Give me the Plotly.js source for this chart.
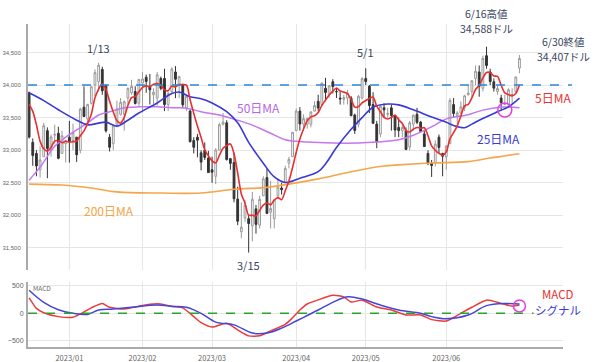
<!DOCTYPE html>
<html><head><meta charset="utf-8">
<script src="https://cdn.plot.ly/plotly-3.0.1.min.js"></script>
<style>html,body{margin:0;padding:0;background:#fff}#chart{width:600px;height:362px}</style>
</head><body><div id="chart"></div>
<script>
// ---- trading days (category axis) ----
const dates = [
'2022-12-15','2022-12-16','2022-12-19','2022-12-20','2022-12-21','2022-12-22','2022-12-23','2022-12-27','2022-12-28','2022-12-29','2022-12-30',
'2023-01-03','2023-01-04','2023-01-05','2023-01-06','2023-01-09','2023-01-10','2023-01-11','2023-01-12','2023-01-13','2023-01-17','2023-01-18','2023-01-19','2023-01-20','2023-01-23','2023-01-24','2023-01-25','2023-01-26','2023-01-27','2023-01-30','2023-01-31',
'2023-02-01','2023-02-02','2023-02-03','2023-02-06','2023-02-07','2023-02-08','2023-02-09','2023-02-10','2023-02-13','2023-02-14','2023-02-15','2023-02-16','2023-02-17','2023-02-21','2023-02-22','2023-02-23','2023-02-24','2023-02-27','2023-02-28',
'2023-03-01','2023-03-02','2023-03-03','2023-03-06','2023-03-07','2023-03-08','2023-03-09','2023-03-10','2023-03-13','2023-03-14','2023-03-15','2023-03-16','2023-03-17','2023-03-20','2023-03-21','2023-03-22','2023-03-23','2023-03-24','2023-03-27','2023-03-28','2023-03-29','2023-03-30','2023-03-31',
'2023-04-03','2023-04-04','2023-04-05','2023-04-06','2023-04-10','2023-04-11','2023-04-12','2023-04-13','2023-04-14','2023-04-17','2023-04-18','2023-04-19','2023-04-20','2023-04-21','2023-04-24','2023-04-25','2023-04-26','2023-04-27','2023-04-28',
'2023-05-01','2023-05-02','2023-05-03','2023-05-04','2023-05-05','2023-05-08','2023-05-09','2023-05-10','2023-05-11','2023-05-12','2023-05-15','2023-05-16','2023-05-17','2023-05-18','2023-05-19','2023-05-22','2023-05-23','2023-05-24','2023-05-25','2023-05-26','2023-05-30','2023-05-31',
'2023-06-01','2023-06-02','2023-06-05','2023-06-06','2023-06-07','2023-06-08','2023-06-09','2023-06-12','2023-06-13','2023-06-14','2023-06-15','2023-06-16','2023-06-20','2023-06-21','2023-06-22','2023-06-23','2023-06-26','2023-06-27','2023-06-28','2023-06-29','2023-06-30'];

const openP = [
33880,33120,32950,32700,32900,33300,33000,33230,33260,32950,33100,
33200,33150,33200,33000,33660,33480,33720,34000,34050,34240,33990,33200,33100,33400,33550,33550,33800,33880,33900,33720,
34030,34120,33980,33850,33800,34100,34100,33700,33900,34200,34000,34000,33650,33600,33150,33200,32960,33000,32880,
32700,32600,33000,33400,33420,32870,32810,32250,31750,31960,31950,31840,32100,31850,32300,32580,32050,31950,32300,32420,32500,32800,32900,
33300,33600,33400,33400,33400,33600,33750,33700,33950,33850,34050,33900,33800,33780,33800,33800,33540,33400,33800,
34100,33980,33700,33400,33250,33650,33550,33650,33530,33350,33300,33300,33050,33400,33550,33430,33250,32950,32800,32800,33200,32950,
32900,33100,33700,33530,33570,33650,33850,33900,34100,34200,33950,34450,34200,34050,33900,33800,33700,33700,33850,33900,34260];
const highP = [
33900,33180,33000,33060,33420,33350,33240,33390,33360,33300,33160,
33450,33410,33200,33650,33980,33710,33980,34240,34342,34280,34010,33250,33380,33760,33800,33760,33960,34080,33980,34090,
34200,34160,34170,33950,34200,34130,34250,33900,34270,34290,34140,34020,33850,33620,33200,33250,33000,33120,32990,
32900,33030,33420,33570,33460,32880,32960,32440,32200,32240,32020,32360,32160,32300,32600,32720,32530,32240,32560,32500,32760,32900,33280,
33640,33660,33550,33500,33600,33750,33850,34040,34110,34000,34090,33950,33900,33850,33930,33830,33560,33850,34120,
34257,34000,33890,33450,33700,33720,33650,33700,33540,33500,33400,33350,33450,33550,33650,33450,33300,33000,32850,33150,33240,32960,
33080,33800,33800,33600,33750,33850,33990,34070,34300,34300,34450,34588,34250,34100,34000,33850,33850,33950,33950,34130,34460];
const lowP = [
33180,32760,32600,32580,32900,32570,32900,33100,32860,32950,32810,
32810,33000,32820,32950,33510,33400,33700,33830,33900,33850,33270,32980,33000,33350,33530,33300,33700,33850,33700,33680,
33580,33880,33700,33700,33680,33920,33600,33600,33880,33800,33800,33650,33600,33120,32950,32890,32690,32850,32650,
32500,32480,33000,33380,32840,32700,32200,31850,31650,31900,31429,31600,31720,31800,32300,32020,31800,31800,32260,32320,32500,32720,32900,
33290,33300,33300,33330,33350,33590,33600,33680,33750,33800,33870,33800,33700,33700,33700,33520,33250,33350,33780,
34000,33570,33400,33030,33200,33500,33500,33300,33200,33200,33200,33000,33000,33300,33400,33280,33050,32770,32590,32750,32950,32600,
32700,33100,33500,33400,33550,33600,33840,33800,34000,33820,33900,34250,34000,33900,33850,33600,33700,33650,33700,33880,34180];
const closeP = [
33202,32920,32758,32850,33376,33027,33204,33242,32876,33221,33147,
33136,33270,32930,33631,33518,33704,33973,34190,34303,33911,33297,33045,33375,33630,33734,33744,33949,33978,33717,34086,
34093,34054,33926,33891,34157,33949,33700,33869,34246,34089,34128,33697,33827,33130,33045,33154,32817,32889,32657,
32662,33004,33391,33431,32856,32798,32255,31910,31819,32155,31875,32247,31862,32245,32561,32030,32105,32238,32432,32394,32718,32859,33274,
33601,33402,33483,33485,33587,33685,33647,34030,33886,33987,33977,33897,33787,33809,33875,33531,33302,33826,34098,
34052,33685,33414,33128,33674,33619,33562,33531,33310,33301,33349,33012,33421,33536,33427,33287,33056,32800,32765,33093,33043,32908,
33062,33763,33563,33573,33665,33834,33877,34066,34212,33979,34408,34299,34054,33952,33947,33727,33715,33927,33853,34122,34407];

// 5-day MA (daily)
const ma5 = [
33707,33595,33391,33139,33021,32986,33043,33140,33145,33114,33138,
33124,33130,33141,33223,33297,33411,33551,33803,33938,34016,33935,33749,33586,33452,33416,33506,33686,33807,33824,33895,
33965,33986,33975,34010,34024,33995,33925,33913,33984,33971,34006,34006,33997,33774,33565,33371,33195,33007,32912,
32836,32806,32921,33029,33069,33096,32946,32650,32328,32187,32003,32001,31992,32077,32158,32189,32161,32236,32273,32240,32377,32528,32735,
32969,33171,33324,33449,33512,33528,33577,33687,33767,33847,33905,33955,33907,33891,33869,33780,33661,33669,33726,
33762,33793,33815,33675,33591,33504,33479,33503,33539,33465,33411,33301,33279,33324,33349,33337,33345,33221,33067,33000,32951,32922,
32974,33174,33268,33374,33525,33680,33702,33803,33931,33994,34108,34193,34190,34138,34132,33996,33879,33854,33834,33869,34005];

// 25-day MA (read at sample days)
const ma25Dates = ['2022-12-15','2022-12-21','2022-12-28','2023-01-05','2023-01-10','2023-01-13','2023-01-18','2023-01-23','2023-01-26','2023-01-31','2023-02-07','2023-02-13','2023-02-15','2023-02-21','2023-02-24','2023-03-01','2023-03-07','2023-03-10','2023-03-15','2023-03-21','2023-03-24','2023-03-29','2023-04-04','2023-04-12','2023-04-14','2023-04-19','2023-04-25','2023-04-28','2023-05-03','2023-05-09','2023-05-12','2023-05-18','2023-05-25','2023-06-01','2023-06-05','2023-06-08','2023-06-12','2023-06-14','2023-06-22','2023-06-27','2023-06-29','2023-06-30'];
const ma25 = [33880,33760,33620,33460,33390,33415,33430,33370,33460,33570,33725,33870,33893,33820,33790,33725,33590,33420,33120,32800,32590,32505,32570,32670,32790,33040,33320,33500,33660,33708,33695,33620,33510,33430,33380,33345,33400,33460,33590,33665,33750,33800];

// 50-day MA
const ma50Dates = ['2022-12-15','2022-12-20','2022-12-27','2022-12-30','2023-01-10','2023-01-13','2023-01-19','2023-01-25','2023-01-31','2023-02-07','2023-02-13','2023-02-17','2023-02-24','2023-03-03','2023-03-10','2023-03-16','2023-03-23','2023-03-29','2023-04-06','2023-04-18','2023-04-27','2023-05-04','2023-05-12','2023-05-18','2023-05-25','2023-06-01','2023-06-09','2023-06-15','2023-06-23','2023-06-30'];
const ma50 = [32540,32740,33060,33200,33420,33540,33590,33650,33665,33665,33650,33645,33590,33540,33460,33385,33260,33160,33125,33110,33110,33125,33160,33230,33360,33480,33545,33615,33660,33650];

// 200-day MA
const ma200Dates = ['2022-12-15','2022-12-29','2023-01-11','2023-01-23','2023-02-08','2023-02-24','2023-03-09','2023-03-22','2023-03-30','2023-04-12','2023-04-25','2023-05-08','2023-05-12','2023-05-25','2023-06-09','2023-06-20','2023-06-30'];
const ma200 = [32480,32465,32420,32360,32343,32343,32400,32430,32480,32560,32670,32757,32775,32803,32825,32880,32945];

// MACD and signal
const macdDates = ['2022-12-15','2022-12-16','2022-12-19','2022-12-21','2022-12-28','2023-01-04','2023-01-06','2023-01-11','2023-01-17','2023-01-19','2023-01-25','2023-01-31','2023-02-03','2023-02-08','2023-02-13','2023-02-16','2023-02-22','2023-02-24','2023-03-01','2023-03-07','2023-03-10','2023-03-15','2023-03-20','2023-03-23','2023-03-29','2023-03-31','2023-04-04','2023-04-06','2023-04-12','2023-04-18','2023-04-21','2023-04-25','2023-04-28','2023-05-04','2023-05-10','2023-05-16','2023-05-22','2023-05-25','2023-06-01','2023-06-07','2023-06-12','2023-06-16','2023-06-23','2023-06-28','2023-06-30'];
const macd = [280,180,90,10,-60,-70,-10,100,180,110,80,130,165,170,125,100,-60,-170,-250,-180,-300,-410,-410,-320,-200,-80,60,170,245,330,300,205,240,115,60,-30,-30,-115,-140,0,110,240,180,130,150];
const sigDates = ['2022-12-15','2022-12-21','2022-12-28','2023-01-04','2023-01-10','2023-01-13','2023-01-20','2023-01-27','2023-02-07','2023-02-13','2023-02-17','2023-02-24','2023-03-02','2023-03-09','2023-03-16','2023-03-22','2023-03-28','2023-04-03','2023-04-06','2023-04-12','2023-04-18','2023-04-24','2023-04-28','2023-05-05','2023-05-12','2023-05-22','2023-05-25','2023-06-01','2023-06-09','2023-06-16','2023-06-26','2023-06-30'];
const signal = [420,200,65,0,-20,60,80,110,150,130,110,0,-160,-210,-360,-360,-270,-140,-40,60,200,300,260,150,60,0,-60,-100,-30,140,180,170];

// axis ticks
const monthTickDates = ['2023-01-03','2023-02-01','2023-03-01','2023-04-03','2023-05-01','2023-06-01'];
const monthTickText = ['2023/01','2023/02','2023/03','2023/04','2023/05','2023/06'];
const priceTicks = [31500,32000,32500,33000,33500,34000,34500];
const macdTicks = [-500,0,500];
const resistance = 34000;

const idx = d => dates.indexOf(d);
const JP = '"Noto Sans CJK JP", "Noto Sans", sans-serif';
const TICK = '"Liberation Sans", Arial, sans-serif';
const navy = '#3a4562';

const traces = [
  {type:'candlestick', x:dates, open:openP, high:highP, low:lowP, close:closeP,
   xaxis:'x', yaxis:'y', hoverinfo:'skip', showlegend:false, whiskerwidth:0,
   increasing:{line:{color:'#9a9a9a', width:1}, fillcolor:'#ffffff'},
   decreasing:{line:{color:'#333333', width:1}, fillcolor:'#333333'}},
  {type:'scatter', mode:'lines', x:ma200Dates, y:ma200, xaxis:'x', yaxis:'y',
   line:{color:'#f5a54a', width:1.6, shape:'spline'}, hoverinfo:'skip'},
  {type:'scatter', mode:'lines', x:ma50Dates, y:ma50, xaxis:'x', yaxis:'y',
   line:{color:'#c577ee', width:1.5, shape:'spline'}, hoverinfo:'skip'},
  {type:'scatter', mode:'lines', x:ma25Dates, y:ma25, xaxis:'x', yaxis:'y',
   line:{color:'#3a3ad6', width:1.6, shape:'spline'}, hoverinfo:'skip'},
  {type:'scatter', mode:'lines', x:dates, y:ma5, xaxis:'x', yaxis:'y',
   line:{color:'#e8302e', width:1.6, shape:'spline', smoothing:0.8}, hoverinfo:'skip'},
  {type:'scatter', mode:'lines', x:macdDates, y:macd, xaxis:'x2', yaxis:'y2',
   line:{color:'#ea3a3a', width:1.5, shape:'spline', smoothing:0.6}, hoverinfo:'skip'},
  {type:'scatter', mode:'lines', x:sigDates, y:signal, xaxis:'x2', yaxis:'y2',
   line:{color:'#4545d8', width:1.5, shape:'spline'}, hoverinfo:'skip'}
];

const xCommon = {type:'category', categoryorder:'array', categoryarray:dates,
  range:[-0.3, 145.9], showgrid:true, gridcolor:'#e6e6e6', gridwidth:1,
  tickvals:monthTickDates, ticktext:monthTickText, zeroline:false, fixedrange:true};

const lbl = (x, y, text, size, color) => ({xref:'paper', yref:'paper', x:x, y:y, xanchor:'center', yanchor:'middle',
  text:text, showarrow:false, font:{size:size, color:color}});
const dlbl = (d, yv, shift, text, size) => ({xref:'x', yref:'y', x:idx(d), y:yv, yshift:shift, xanchor:'center', yanchor:'middle',
  text:text, showarrow:false, font:{size:size || 11, color:navy}});

const layout = {
  width:600, height:362, showlegend:false,
  paper_bgcolor:'#ffffff', plot_bgcolor:'#ffffff',
  margin:{l:28, r:37, t:24, b:15},
  font:{family:JP, color:'#666'},
  xaxis: Object.assign({}, xCommon, {anchor:'y', showticklabels:false, rangeslider:{visible:false}, showline:false}),
  yaxis: {domain:[0.2384,1], range:[31162,34936], tickvals:priceTicks, tickformat:',d',
    showgrid:true, gridcolor:'#e6e6e6', zeroline:false, showline:true, linecolor:'#aaaaaa', linewidth:2,
    ticks:'outside', ticklen:4, tickcolor:'rgba(0,0,0,0)', tickfont:{size:6, color:'#666', family:TICK}},
  xaxis2: Object.assign({}, xCommon, {anchor:'y2', matches:'x', showticklabels:true,
    showline:true, linecolor:'#aaaaaa', linewidth:2, ticks:'outside', ticklen:3, tickcolor:'rgba(0,0,0,0)',
    tickfont:{size:7.5, color:'#666'}, rangeslider:{visible:false}}),
  yaxis2: {domain:[0,0.2012], range:[-613,570], tickvals:macdTicks, tickformat:'d',
    showgrid:true, gridcolor:'#e6e6e6', zeroline:false, showline:true, linecolor:'#aaaaaa', linewidth:2,
    ticks:'outside', ticklen:1, tickcolor:'rgba(0,0,0,0)', tickfont:{size:7, color:'#666', family:TICK}},
  shapes:[
    {type:'line', xref:'paper', yref:'y', x0:0, x1:1.017, y0:resistance, y1:resistance,
     line:{color:'#2f86d6', width:1.6, dash:'dash'}},
    {type:'line', xref:'paper', yref:'y2', x0:0, x1:0.945, y0:0, y1:0,
     line:{color:'#2aa52a', width:1.6, dash:'dash'}},
    {type:'circle', xref:'x', yref:'y', xsizemode:'pixel', ysizemode:'pixel',
     xanchor:idx('2023-06-26'), yanchor:33617, x0:-7, x1:7, y0:-7, y1:7,
     line:{color:'#e040e0', width:1.5}},
    {type:'circle', xref:'x2', yref:'y2', xsizemode:'pixel', ysizemode:'pixel',
     xanchor:idx('2023-06-30'), yanchor:135, x0:-6, x1:6, y0:-6, y1:6,
     line:{color:'#e040e0', width:1.5}}
  ],
  annotations:[
    dlbl('2023-01-13', highP[idx('2023-01-13')], 15, '1/13'),
    dlbl('2023-03-15', lowP[idx('2023-03-15')], -12, '3/15'),
    dlbl('2023-05-01', highP[idx('2023-05-01')], 16, '5/1'),
    dlbl('2023-06-16', highP[idx('2023-06-16')], 33, '6/16高値', 10.5),
    dlbl('2023-06-16', highP[idx('2023-06-16')], 18, '34,588ドル', 10.5),
    lbl(1.0, 0.947, '6/30終値', 10.5, navy),
    lbl(1.0, 0.900, '34,407ドル', 10.5, navy),
    lbl(0.43, 0.740, '50日MA', 12, '#b565e8'),
    lbl(0.152, 0.424, '200日MA', 12, '#f2a444'),
    lbl(0.981, 0.771, '5日MA', 12, '#e8302e'),
    lbl(0.879, 0.647, '25日MA', 12, '#3a3ad6'),
    lbl(0.991, 0.164, 'MACD', 11.5, '#e8302e'),
    lbl(0.991, 0.115, 'シグナル', 11.5, '#3a3ad6'),
    lbl(0.026, 0.183, 'MACD', 6.5, '#666')
  ]
};

Plotly.newPlot('chart', traces, layout, {staticPlot:true, displayModeBar:false});
</script></body></html>
